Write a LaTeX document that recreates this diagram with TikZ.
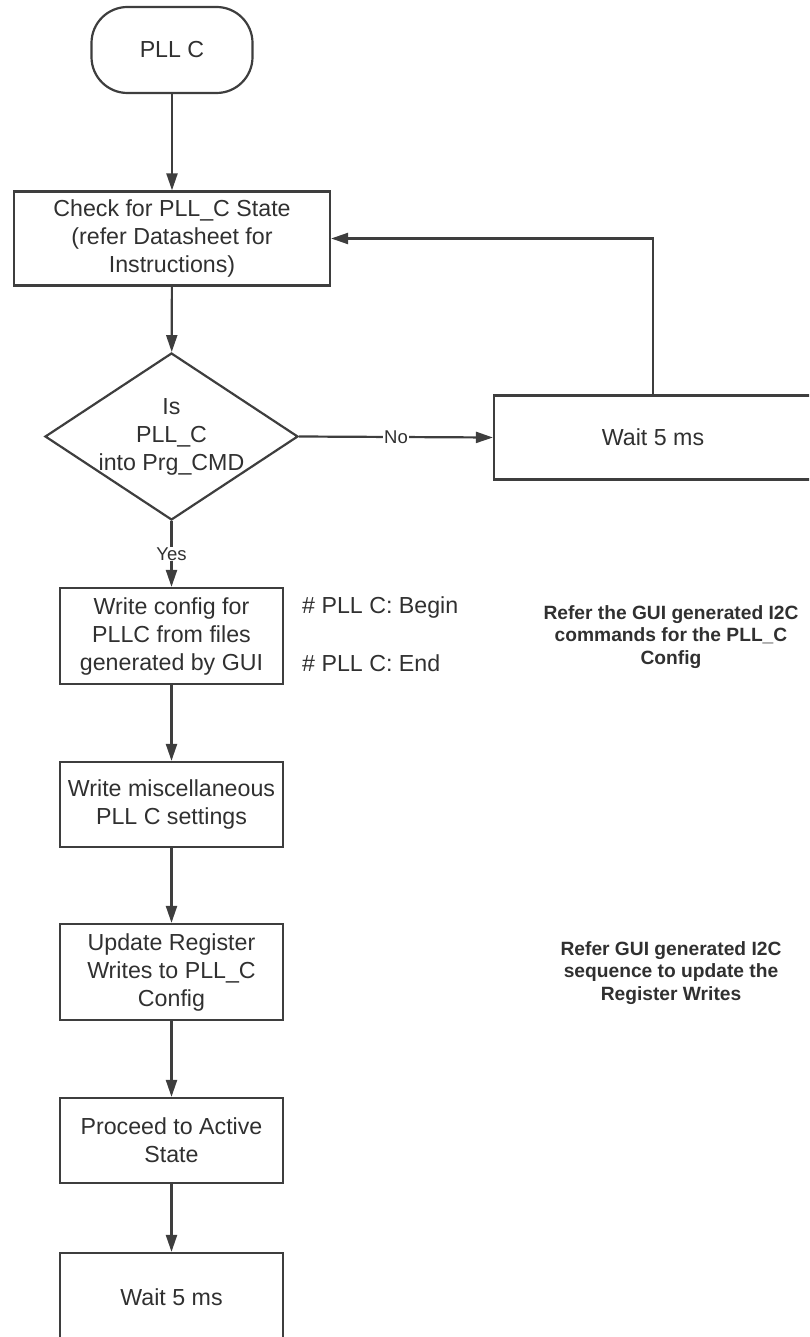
\documentclass[tikz,border=0pt]{standalone}
\usepackage{fontspec}
\setmainfont{Liberation Sans}
\usepackage{tikz}
\usetikzlibrary{
    arrows.meta,
    shapes.geometric,
    positioning
}
\definecolor{linegray}{RGB}{62,62,62}
\definecolor{textgray}{RGB}{48,48,48}
\tikzstyle{startstop} = [
    rectangle,
    rounded corners=36pt,
    draw=linegray,
    line width=2.2pt,
    minimum width=161pt,
    minimum height=86pt,
    text=textgray,
    font=\fontsize{23.2}{28}\selectfont
]
\tikzstyle{process} = [
    rectangle,
    draw=linegray,
    line width=2.2pt,
    minimum width=223pt,
    minimum height=85pt,
    align=center,
    text=textgray,
    font=\fontsize{23.2}{28}\selectfont
]
\tikzstyle{decision} = [
    diamond,
    draw=linegray,
    line width=2.2pt,
    minimum width=253pt,
    minimum height=167pt,
    aspect=1.5,
    inner sep=-4pt,
    align=center,
    text=textgray,
    font=\fontsize{23.2}{28}\selectfont
]
\tikzstyle{comment} = [
    anchor=west,
    inner sep=0pt,
    text=textgray,
    font=\fontsize{23.2}{28}\selectfont
]
\tikzstyle{note} = [
    align=center,
    text=textgray,
    font=\fontsize{19.2}{22.5}\selectfont\bfseries
]
\tikzstyle{edgelabel} = [
    fill=white,
    inner sep=1pt,
    text=textgray,
    font=\fontsize{18.5}{20}\selectfont
]
\tikzstyle{arrow} = [
    -{Triangle[length=17pt,width=11pt]},
    line width=2.2pt,
    draw=linegray
]

\begin{document}
\begin{tikzpicture}[x=1pt, y=-1pt]
    \useasboundingbox (0,0) rectangle (809,1337);
    \clip (0,0) rectangle (809,1337);

    % Start
    \node[startstop] (start) at (172,50) {PLL C};

    % Check state
    \node[process, minimum width=316pt, minimum height=94pt] (check) at (172,238.5) {
        Check for PLL\_C State\\
        (refer Datasheet for\\
        Instructions)
    };

    % Decision
    \node[decision] (decide) at (171.5,436.5) {
        Is\\
        PLL\_C\\
        into Prg\_CMD
    };

    % Wait loop
    \node[process, minimum width=318pt, minimum height=84pt] (waitloop) at (653,437.5) {Wait 5 ms};

    % Write config
    \node[process, minimum height=96pt] (writecfg) at (171.5,636) {
        Write config for\\
        PLLC from files\\
        generated by GUI
    };
    \node[comment] (cbegin) at (302,607) {\# PLL C: Begin};
    \node[comment] (cend) at (302,663) {\# PLL C: End};
    \node[note] (note1) at (671,637) {
        Refer the GUI generated I2C\\
        commands for the PLL\_C\\
        Config
    };

    % Misc settings
    \node[process] (misc) at (171.5,804.5) {
        Write miscellaneous\\
        PLL C settings
    };

    % Register writes
    \node[process, minimum height=96pt] (update) at (171.5,972) {
        Update Register\\
        Writes to PLL\_C\\
        Config
    };
    \node[note] (note2) at (671,973) {
        Refer GUI generated I2C\\
        sequence to update the\\
        Register Writes
    };

    % Active state
    \node[process] (proceed) at (171.5,1140.5) {
        Proceed to Active\\
        State
    };

    % Final wait
    \node[process, minimum height=88pt] (waitend) at (171.5,1297) {Wait 5 ms};

    % Arrows
    \draw[arrow] (start) -- (check);
    \draw[arrow] (check) -- (decide);
    \draw[arrow] (decide.east) -- node[edgelabel] {No} (waitloop.west);
    \draw[arrow] (waitloop.north) |- (check.east);
    \draw[arrow] (decide.south) -- node[edgelabel] {Yes} (writecfg.north);
    \draw[arrow] (writecfg) -- (misc);
    \draw[arrow] (misc) -- (update);
    \draw[arrow] (update) -- (proceed);
    \draw[arrow] (proceed) -- (waitend);
\end{tikzpicture}
\end{document}
